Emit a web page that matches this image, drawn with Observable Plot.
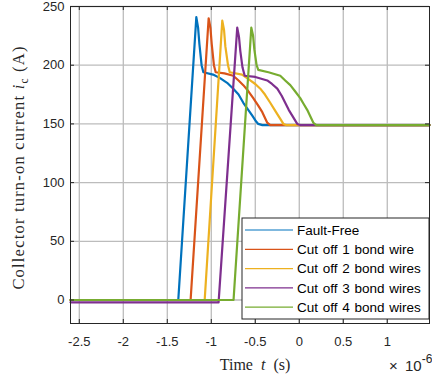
<!DOCTYPE html>
<html>
<head>
<meta charset="utf-8">
<script src="https://cdn.jsdelivr.net/npm/d3@7"></script>
<script src="https://cdn.jsdelivr.net/npm/@observablehq/plot@0.6"></script>
<style>
  html, body { margin: 0; padding: 0; background: #fff; }
  #chart { position: relative; width: 432px; height: 381px; }
</style>
</head>
<body>
<div id="chart"></div>
<script>
// ---- Data (time in microseconds, current in A) ----
const seriesNames = ["Fault-Free", "Cut off 1 bond wire", "Cut off 2 bond wires", "Cut off 3 bond wires", "Cut off 4 bond wires"];
const seriesColors = ["#0072BD", "#D95319", "#EDB120", "#7E2F8E", "#77AC30"];

const tFaultFree = [-2.6, -1.375, -1.17, -1.15, -1.135, -1.11, -1.09, -0.98, -0.90, -0.82, -0.75, -0.69, -0.636, -0.58, -0.534, -0.49, -0.466, -0.42, 1.48];
const iFaultFree = [0, 0, 241, 232, 218, 200, 194, 192, 189, 185, 180, 175, 168, 162, 157, 152, 150, 149, 149];

const tCut1 = [-2.6, -1.235, -1.03, -1.01, -0.995, -0.97, -0.95, -0.85, -0.75, -0.69, -0.636, -0.58, -0.523, -0.47, -0.42, -0.364, -0.33, 1.48];
const iCut1 = [0, 0, 240, 232, 218, 200, 194, 193, 191, 187, 183, 178, 172, 166, 160, 151, 149, 149];

const tCut2 = [-2.6, -1.075, -0.875, -0.855, -0.84, -0.81, -0.79, -0.65, -0.557, -0.50, -0.443, -0.39, -0.33, -0.28, -0.239, -0.18, -0.15, 1.48];
const iCut2 = [0, 0, 238, 230, 216, 200, 194, 192, 187, 184, 180, 175, 168, 162, 157, 150, 149, 149];

const tCut3 = [-2.6, -0.917, -0.705, -0.685, -0.67, -0.645, -0.62, -0.50, -0.364, -0.31, -0.25, -0.20, -0.16, -0.12, -0.08, -0.023, 0.01, 1.48];
const iCut3 = [-2, -2, 232, 224, 212, 198, 191, 190, 187, 184, 180, 174, 168, 162, 157, 150, 149, 149];

const tCut4 = [-2.6, -0.747, -0.545, -0.525, -0.51, -0.485, -0.466, -0.35, -0.216, -0.16, -0.102, -0.05, 0.011, 0.05, 0.09, 0.16, 0.193, 1.48];
const iCut4 = [0, 0, 232, 225, 213, 200, 196, 194, 191, 187, 183, 178, 172, 167, 162, 151, 149, 149];

const xTicks = [-2.5, -2, -1.5, -1, -0.5, 0, 0.5, 1];
const xTickLabels = ["-2.5", "-2", "-1.5", "-1", "-0.5", "0", "0.5", "1"];
const yTicks = [0, 50, 100, 150, 200, 250];
const yTickLabels = ["0", "50", "100", "150", "200", "250"];

// ---- Build table ----
const tArrays = [tFaultFree, tCut1, tCut2, tCut3, tCut4];
const iArrays = [iFaultFree, iCut1, iCut2, iCut3, iCut4];
const rows = [];
seriesNames.forEach((name, k) => {
  tArrays[k].forEach((t, j) => rows.push({series: name, t, i: iArrays[k][j]}));
});

const W = 432, H = 381;
const mL = 70, mR = 3, mT = 6, mB = 58;
const innerW = W - mL - mR, innerH = H - mT - mB;
const tickLen = 4;
const axisColor = "#262626";
const gridColor = "#bcbcbc";

const chart = Plot.plot({
  width: W,
  height: H,
  marginLeft: mL, marginRight: mR, marginTop: mT, marginBottom: mB,
  x: {domain: [-2.6, 1.48]},
  y: {domain: [-20, 250]},
  color: {domain: seriesNames, range: seriesColors},
  style: {fontFamily: "'Liberation Sans', Arial, Helvetica, sans-serif", fontSize: "13px", color: axisColor, background: "#fff"},
  marks: [
    Plot.gridX(xTicks, {stroke: gridColor, strokeOpacity: 1, strokeWidth: 1.3}),
    Plot.gridY(yTicks, {stroke: gridColor, strokeOpacity: 1, strokeWidth: 1.3}),
    Plot.line(rows, {x: "t", y: "i", z: "series", stroke: "series", strokeWidth: 2.2, curve: "linear"}),
    // inward ticks
    Plot.ruleX(xTicks, {x: d => d, insetTop: innerH - tickLen, stroke: axisColor}),
    Plot.ruleX(xTicks, {x: d => d, insetBottom: innerH - tickLen, stroke: axisColor}),
    Plot.ruleY(yTicks, {y: d => d, insetRight: innerW - tickLen, stroke: axisColor}),
    Plot.ruleY(yTicks, {y: d => d, insetLeft: innerW - tickLen, stroke: axisColor}),
    Plot.axisX(xTicks, {tickSize: 0, tickPadding: 13, label: null, tickFormat: (d, k) => xTickLabels[k], fontSize: 13}),
    Plot.axisY(yTicks, {tickSize: 0, tickPadding: 6, label: null, tickFormat: (d, k) => yTickLabels[k], fontSize: 13}),
    Plot.frame({stroke: axisColor, strokeWidth: 1})
  ]
});

document.getElementById("chart").appendChild(chart);

// ---- Labels and legend appended to the SVG ----
const svg = d3.select(chart);
const serif = "'Liberation Serif', 'Times New Roman', Times, serif";
const sans = "'Liberation Sans', Arial, sans-serif";

// Y label
const yl = svg.append("text")
  .attr("transform", `translate(24, ${mT + innerH / 2 + 3}) rotate(-90)`)
  .attr("text-anchor", "middle")
  .attr("font-family", serif)
  .attr("font-size", 16.5)
  .attr("letter-spacing", 1.2)
  .attr("fill", axisColor);
yl.append("tspan").text("Collector turn-on current ");
yl.append("tspan").attr("font-style", "italic").text("i");
yl.append("tspan").attr("font-size", 11.5).attr("dy", 4).text("c");
yl.append("tspan").attr("dy", -4).text(" (A)");

// X label
const xl = svg.append("text")
  .attr("x", 255).attr("y", 370)
  .attr("text-anchor", "middle")
  .attr("font-family", serif)
  .attr("font-size", 16)
  .attr("fill", axisColor);
xl.append("tspan").text("Time\u2002");
xl.append("tspan").attr("font-style", "italic").text("t");
xl.append("tspan").text("\u2002(s)");

// Exponent
const ex = svg.append("text")
  .attr("x", 389).attr("y", 371)
  .attr("text-anchor", "start")
  .attr("font-family", sans)
  .attr("font-size", 15)
  .attr("fill", axisColor);
ex.append("tspan").text("\u00d7");
ex.append("tspan").attr("x", 405).text("10");
ex.append("tspan").attr("font-size", 12).attr("dy", -8).text("-6");

// Legend
const lg = svg.append("g");
const lgX = 242, lgY = 218, lgW = 187, lgH = 101;
lg.append("rect").attr("x", lgX).attr("y", lgY).attr("width", lgW).attr("height", lgH)
  .attr("fill", "#fff").attr("stroke", axisColor).attr("stroke-width", 1);
seriesNames.forEach((name, k) => {
  const cy = lgY + 12 + k * 19.3;
  lg.append("line").attr("x1", lgX + 3).attr("x2", lgX + 51).attr("y1", cy).attr("y2", cy)
    .attr("stroke", seriesColors[k]).attr("stroke-width", 1.2);
  lg.append("text").attr("x", lgX + 55).attr("y", cy).attr("dy", "0.35em")
    .attr("text-anchor", "start")
    .attr("font-family", sans).attr("font-size", 13.5)
    .attr("word-spacing", 1)
    .attr("fill", "#000").text(name);
});
</script>
</body>
</html>
